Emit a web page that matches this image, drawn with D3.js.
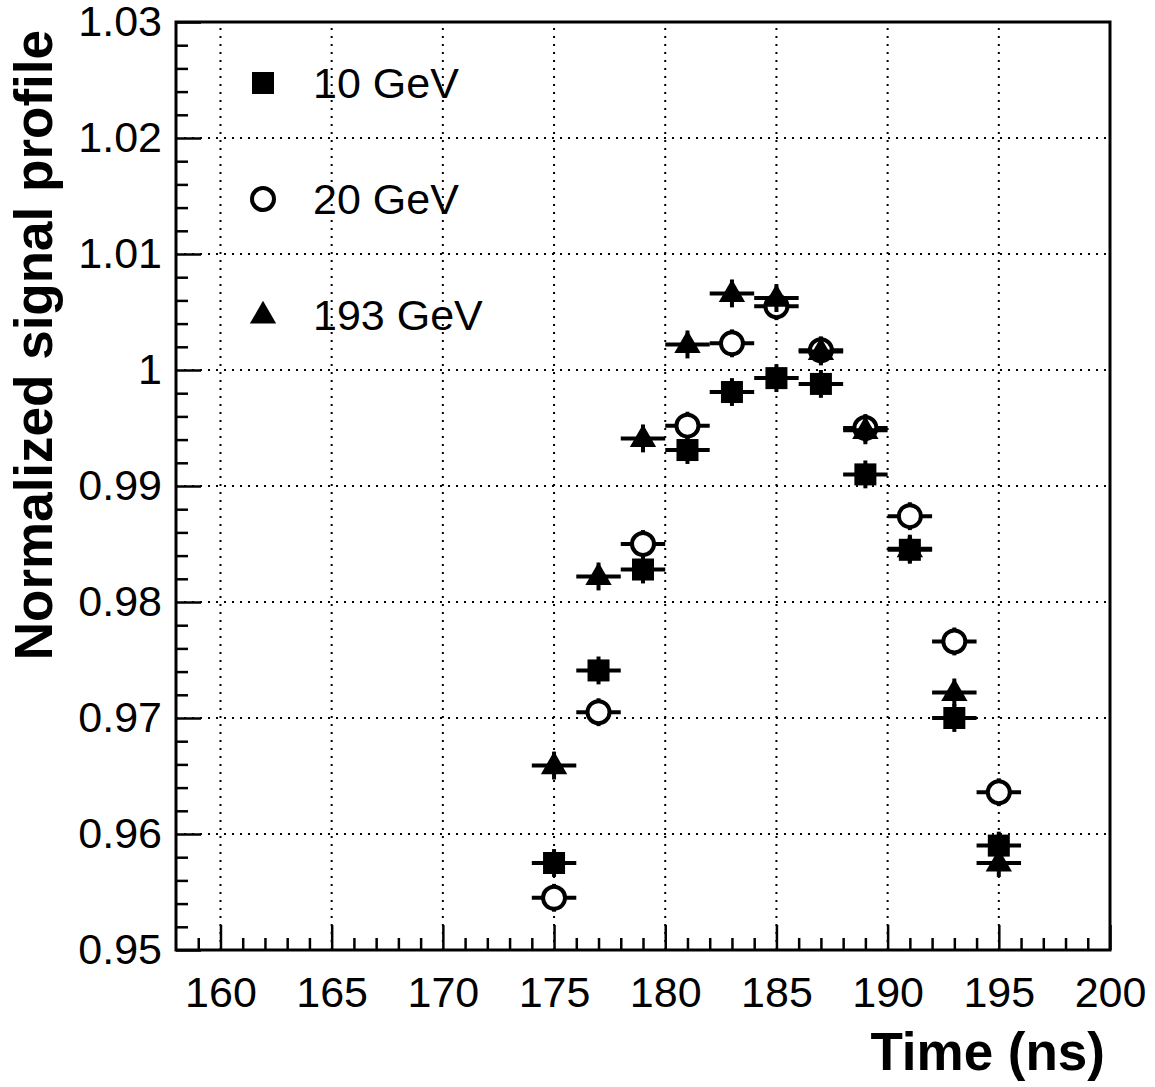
<!DOCTYPE html>
<html><head><meta charset="utf-8">
<script src="https://cdn.jsdelivr.net/npm/d3@7"></script>
<style>body{margin:0;background:#fff}text{font-family:"Liberation Sans",Arial,sans-serif}</style>
</head><body>
<svg id="c" width="1155" height="1087"></svg>
<script>
// data
var times = [175,177,179,181,183,185,187,189,191,193,195];
var gev10 = [0.9575,0.9741,0.9828,0.9931,0.9981,0.9993,0.9988,0.9910,0.9845,0.9700,0.9590];
var gev20 = [0.9545,0.9705,0.9850,0.9952,1.0023,1.0055,1.0017,0.9950,0.9874,0.9766,0.9636];
var gev193 = [0.9659,0.9822,0.9941,1.0022,1.0066,1.0062,1.0016,0.9948,0.9846,0.9722,0.9575];
var xTicks = [160,165,170,175,180,185,190,195,200];
var yTicks = [0.95,0.96,0.97,0.98,0.99,1,1.01,1.02,1.03];
var legendLabels = ["10 GeV","20 GeV","193 GeV"];

var svg = d3.select("#c");
var L=176,R=1110,T=22,B=950;
var x = d3.scaleLinear().domain([158,200]).range([L,R]);
var y = d3.scaleLinear().domain([0.95,1.03]).range([B,T]);

// grid
var g = svg.append("g").attr("stroke","#000").attr("stroke-width",2).attr("stroke-dasharray","2,6");
g.selectAll(".gx").data(xTicks.filter(function(d){return d<200})).enter().append("line")
 .attr("x1",function(d){return x(d)}).attr("x2",function(d){return x(d)}).attr("y1",B).attr("y2",T);
g.selectAll(".gy").data(yTicks.slice(1,-1)).enter().append("line")
 .attr("y1",function(d){return y(d)}).attr("y2",function(d){return y(d)}).attr("x1",L).attr("x2",R);

// frame
svg.append("rect").attr("x",L).attr("y",T).attr("width",R-L).attr("height",B-T)
 .attr("fill","none").attr("stroke","#000").attr("stroke-width",3);

// axes with inward ticks
var xa = svg.append("g").attr("transform","translate(0,"+B+")")
 .call(d3.axisBottom(x).tickValues(xTicks).tickSize(-25).tickPadding(26).tickFormat(d3.format("d")));
var xm = svg.append("g").attr("transform","translate(0,"+B+")")
 .call(d3.axisBottom(x).tickValues(d3.range(159,200,1).filter(function(d){return d%5})).tickSize(-12).tickFormat(""));
var ya = svg.append("g").attr("transform","translate("+L+",0)")
 .call(d3.axisLeft(y).tickValues(yTicks).tickSize(-25).tickPadding(14).tickFormat(function(d){return d===1?"1":d3.format(".2f")(d)}));
var ym = svg.append("g").attr("transform","translate("+L+",0)")
 .call(d3.axisLeft(y).tickValues(d3.range(0,40).map(function(i){return 0.95+i*0.002}).filter(function(d,i){return i%5})).tickSize(-12).tickFormat(""));
[xa,xm,ya,ym].forEach(function(a){
 a.select(".domain").remove();
 a.selectAll("line").attr("stroke","#000").attr("stroke-width",2.5);
 a.selectAll("text").attr("font-size",43).attr("fill","#000").style("font-family","Liberation Sans, Arial, sans-serif");
});
xa.selectAll("text").attr("dy","0.71em");

svg.append("text").attr("x",1105).attr("y",1070).attr("text-anchor","end")
 .attr("font-size",53).attr("font-weight","bold").text("Time (ns)");
svg.append("text").attr("transform","translate(52,30) rotate(-90)").attr("text-anchor","end")
 .attr("font-size",53).attr("font-weight","bold").text("Normalized signal profile");

// points with error bars
function series(vals,sym){
 var s = svg.append("g");
 vals.forEach(function(v,i){
  var px=x(times[i]), py=y(v);
  s.append("line").attr("x1",x(times[i]-1)).attr("x2",x(times[i]+1)).attr("y1",py).attr("y2",py)
   .attr("stroke","#000").attr("stroke-width",4);
  s.append("line").attr("x1",px).attr("x2",px).attr("y1",y(v-0.0012)).attr("y2",y(v+0.0012))
   .attr("stroke","#000").attr("stroke-width",4);
  sym(s,px,py);
 });
}
function square(s,px,py){ s.append("rect").attr("x",px-11).attr("y",py-11).attr("width",22).attr("height",22).attr("fill","#000"); }
function circle(s,px,py){
 s.append("circle").attr("cx",px).attr("cy",py).attr("r",11).attr("fill","#fff").attr("stroke","#000").attr("stroke-width",4);
}
function tri(s,px,py){ s.append("path").attr("d",d3.symbol(d3.symbolTriangle,300)()).attr("transform","translate("+px+","+(py+1)+")").attr("fill","#000"); }
series(gev10,square);
series(gev20,circle);
series(gev193,tri);

// legend
var syms=[square,circle,tri];
legendLabels.forEach(function(l,i){
 var ly=83+i*116;
 var lg=svg.append("g");
 syms[i](lg,263,ly);
 svg.append("text").attr("x",313).attr("y",ly+15).attr("font-size",43).text(l);
});
</script>
</body></html>
